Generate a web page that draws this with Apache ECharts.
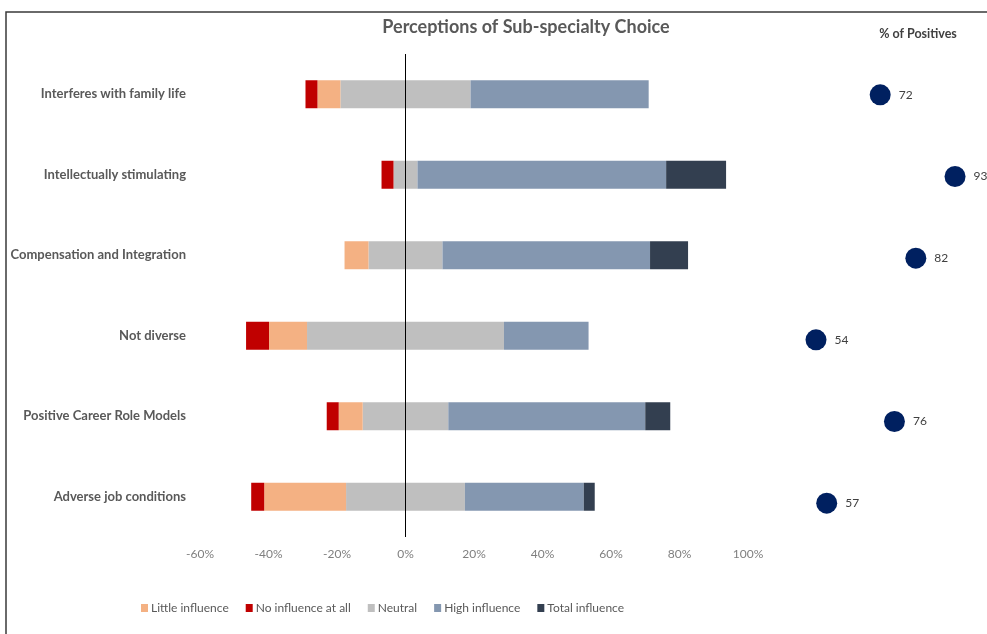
<!DOCTYPE html>
<html>
<head>
<meta charset="utf-8">
<title>Perceptions of Sub-specialty Choice</title>
<script src="https://cdn.jsdelivr.net/npm/echarts@6/dist/echarts.min.js"></script>
<style>
  html, body { margin: 0; padding: 0; background: #ffffff; }
  #chart { width: 987px; height: 634px; }
</style>
</head>
<body>
<div id="chart"></div>
<script>
// Statements, top to bottom
const categories = [
  'Interferes with family life',
  'Intellectually stimulating',
  'Compensation and Integration',
  'Not diverse',
  'Positive Career Role Models',
  'Adverse job conditions'
];

// Share of respondents (%) per response level
const noInfluence     = [3.5, 3.5, 0.0, 6.7, 3.5, 3.8];
const littleInfluence = [6.7, 0.0, 7.0, 11.1, 7.0, 23.9];
const neutral         = [38.0, 7.0, 21.6, 57.5, 25.0, 34.7];
const highInfluence   = [52.0, 72.6, 60.6, 24.7, 57.5, 34.7];
const totalInfluence  = [0.0, 17.5, 11.1, 0.0, 7.3, 3.2];

// % of positives per statement
const positives = [72, 93, 82, 54, 76, 57];

// Value axis ticks
const axisMin = -60, axisMax = 100, axisStep = 20;

const COLORS = {
  little: '#F4B183',
  none: '#C00000',
  neutral: '#BFBFBF',
  high: '#8497B0',
  total: '#333F50',
  dot: '#002060'
};

const FONT = 'Lato, "Liberation Sans", sans-serif';

const neg = arr => arr.map(v => -v);
const half = arr => arr.map(v => v / 2);

function barSeries(name, data, color, extra) {
  return Object.assign({
    name: name,
    type: 'bar',
    stack: 'likert',
    xAxisIndex: 0,
    yAxisIndex: 0,
    barWidth: 28,
    itemStyle: { color: color },
    emphasis: { disabled: true },
    data: data
  }, extra || {});
}

const chart = echarts.init(document.getElementById('chart'), null, { renderer: 'canvas' });

chart.setOption({
  animation: false,
  backgroundColor: '#ffffff',
  textStyle: { fontFamily: FONT },
  title: [
    {
      text: 'Perceptions of Sub-specialty Choice',
      left: 521, top: 13, textAlign: 'center',
      textStyle: { fontFamily: FONT, fontSize: 18, fontWeight: 'bold', color: '#595959' }
    },
    {
      text: '% of Positives',
      left: 913, top: 22, textAlign: 'center',
      textStyle: { fontFamily: FONT, fontSize: 12.5, fontWeight: 'bold', color: '#404040' }
    }
  ],
  legend: {
    left: 136, top: 597,
    itemWidth: 7, itemHeight: 8, itemGap: 17,
    icon: 'rect',
    textStyle: { fontFamily: FONT, fontSize: 12, color: '#595959', padding: [0, 0, 0, -2] },
    data: ['Little influence', 'No influence at all', 'Neutral', 'High influence', 'Total influence']
  },
  grid: [
    { left: 200, top: 54, width: 548, height: 483 },
    { left: 623.5, top: 54, width: 356.5, height: 490 }
  ],
  xAxis: [
    {
      gridIndex: 0, type: 'value',
      min: axisMin, max: axisMax, interval: axisStep,
      axisLine: { show: false }, axisTick: { show: false }, splitLine: { show: false },
      axisLabel: {
        formatter: '{value}%', margin: 11,
        fontFamily: FONT, fontSize: 12, color: '#7f7f7f'
      }
    },
    {
      gridIndex: 1, type: 'value', min: 0, max: 100, show: false
    }
  ],
  yAxis: [
    {
      gridIndex: 0, type: 'category', inverse: true, data: categories,
      axisLine: { show: false }, axisTick: { show: false }, splitLine: { show: false },
      axisLabel: {
        margin: 14, fontFamily: FONT, fontSize: 13, fontWeight: 'bold', color: '#595959'
      }
    },
    {
      gridIndex: 1, type: 'category', inverse: true, data: categories, show: false
    }
  ],
  series: [
    barSeries('Neutral', neg(half(neutral)), COLORS.neutral, {
      markLine: {
        silent: true, symbol: 'none', label: { show: false },
        lineStyle: { color: '#000000', width: 1, type: 'solid' },
        data: [{ xAxis: 0 }]
      }
    }),
    barSeries('Neutral', half(neutral), COLORS.neutral),
    barSeries('Little influence', neg(littleInfluence), COLORS.little),
    barSeries('No influence at all', neg(noInfluence), COLORS.none),
    barSeries('High influence', highInfluence, COLORS.high),
    barSeries('Total influence', totalInfluence, COLORS.total),
    {
      name: '% of Positives',
      type: 'scatter',
      xAxisIndex: 1, yAxisIndex: 1,
      symbol: 'circle', symbolSize: 21,
      itemStyle: { color: COLORS.dot, opacity: 1 },
      label: {
        show: true, position: 'right', distance: 8,
        fontFamily: FONT, fontSize: 12, color: '#404040'
      },
      emphasis: { disabled: true },
      data: positives.map((v, i) => [v, categories[i]])
    }
  ],
  graphic: [
    {
      type: 'rect', silent: true,
      shape: { x: 6, y: 12, width: 1000, height: 700 },
      style: { fill: 'none', stroke: '#3a3a3a', lineWidth: 1.5 }
    }
  ]
});
</script>
</body>
</html>
